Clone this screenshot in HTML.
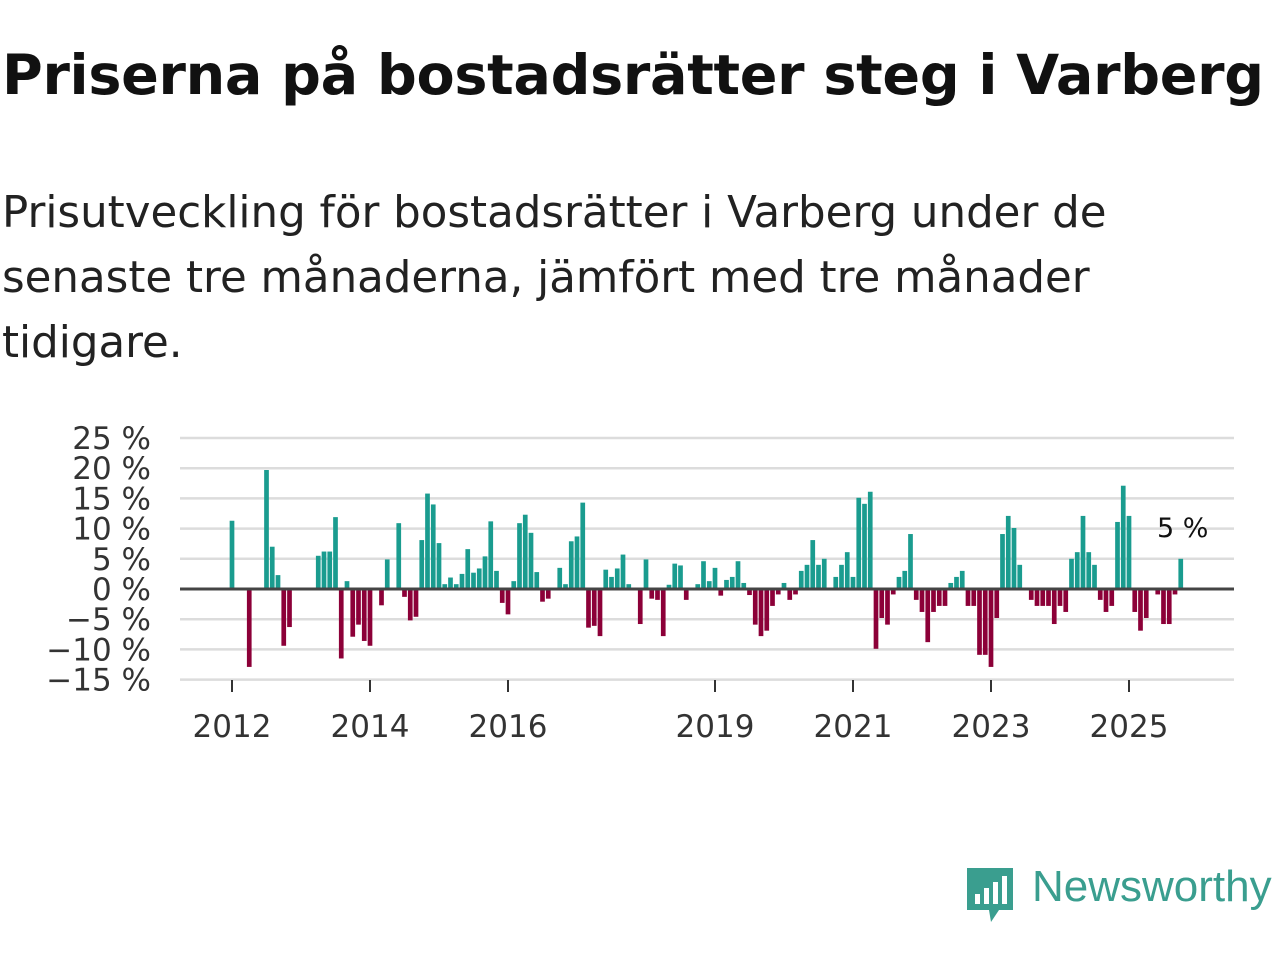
<!DOCTYPE html>
<html><head><meta charset="utf-8">
<style>
body{margin:0;width:1280px;height:960px;background:#fff;font-family:"Liberation Sans","DejaVu Sans",sans-serif;overflow:hidden;position:relative;color:#111}
h1{position:absolute;left:2px;top:43px;margin:0;font-size:55.6px;font-weight:bold;font-family:"DejaVu Sans","Liberation Sans",sans-serif;letter-spacing:-0.3px;white-space:nowrap;color:#111}
.sub{position:absolute;left:2px;top:181px;margin:0;font-size:43.5px;line-height:65px;font-family:"DejaVu Sans","Liberation Sans",sans-serif;width:1130px;color:#222}
svg{position:absolute;left:0;top:0}
</style></head><body>
<h1>Priserna på bostadsrätter steg i Varberg</h1>
<p class="sub">Prisutveckling för bostadsrätter i Varberg under de senaste tre månaderna, jämfört med tre månader tidigare.</p>
<svg id="chart" width="1280" height="960"></svg>
<div style="position:absolute;left:965px;top:866px;">
<svg width="50" height="60" style="position:absolute;left:0;top:0"><path d="M2 2 H48 V44 H34 L26 56 L24 44 H2 Z" fill="#3a9e8f"/><rect x="10" y="28" width="5" height="10" fill="#fff"/><rect x="19" y="22" width="5" height="16" fill="#fff"/><rect x="28" y="16" width="5" height="22" fill="#fff"/><rect x="37" y="10" width="5" height="28" fill="#fff"/></svg>
<span style="position:absolute;left:67px;top:-4px;font-size:44px;color:#3a9e8f;white-space:nowrap;font-family:'Liberation Sans',sans-serif">Newsworthy</span></div>
<script>
const startYear = 2012;
const values = [11.3,null,null,-12.9,null,null,19.7,7.0,2.3,-9.4,-6.3,null,null,null,null,5.5,6.2,6.2,11.9,-11.5,1.3,-7.9,-5.9,-8.6,-9.4,null,-2.7,4.9,null,10.9,-1.3,-5.2,-4.6,8.1,15.8,14.0,7.6,0.8,1.9,0.8,2.5,6.6,2.7,3.4,5.4,11.2,3.0,-2.3,-4.2,1.3,10.9,12.3,9.3,2.8,-2.1,-1.6,null,3.5,0.8,7.9,8.7,14.3,-6.4,-6.1,-7.8,3.2,2.0,3.4,5.7,0.8,null,-5.8,4.9,-1.6,-1.8,-7.8,0.7,4.2,3.9,-1.8,null,0.8,4.6,1.3,3.5,-1.1,1.5,2.0,4.6,1.0,-1.0,-5.9,-7.8,-6.9,-2.8,-0.9,1.0,-1.8,-0.9,3.0,4.0,8.1,4.0,5.0,null,2.0,4.0,6.1,2.0,15.1,14.1,16.1,-9.9,-4.8,-5.9,-0.9,2.0,3.0,9.1,-1.8,-3.8,-8.8,-3.8,-2.8,-2.8,1.0,2.0,3.0,-2.8,-2.8,-10.9,-10.9,-12.9,-4.8,9.1,12.1,10.1,4.0,null,-1.8,-2.8,-2.8,-2.8,-5.8,-2.8,-3.8,5.0,6.1,12.1,6.1,4.0,-1.8,-3.8,-2.8,11.1,17.1,12.1,-3.8,-6.9,-4.8,null,-0.9,-5.8,-5.8,-0.9,5.0];
const yTicks = [25,20,15,10,5,0,-5,-10,-15];
const xTickYears = [2012,2014,2016,2019,2021,2023,2025];
const lastLabel = "5 %";

const NS="http://www.w3.org/2000/svg";
const svg=document.getElementById('chart');
const y=v=>589-v*6.04;
const x=m=>232+m*5.75;
function mk(t,a){const e=document.createElementNS(NS,t);for(const k in a)e.setAttribute(k,a[k]);svg.appendChild(e);return e;}
yTicks.forEach(t=>{
  if(t!==0){const g=mk('line',{x1:180,x2:1234,y1:y(t),y2:y(t),stroke:'#dcdcdc','stroke-width':2.5});
  
  }
  const l=mk('text',{x:151,y:y(t)+11,'text-anchor':'end','font-size':31,fill:'#333','font-family':'DejaVu Sans, Liberation Sans, sans-serif'});
  l.textContent=(t<0?'\u2212'+(-t):t)+' %';
  
  
});
values.forEach((v,i)=>{
  if(v===null)return;
  const r=mk('rect',{x:x(i)-2.35,width:4.7,y:Math.min(y(v),589),height:Math.abs(y(v)-589),fill:v>=0?'#1a9c8f':'#8c0038'});
  
  
});
const z=mk('line',{x1:180,x2:1234,y1:589,y2:589,stroke:'#444','stroke-width':3});


xTickYears.forEach(yr=>{
  const m=(yr-startYear)*12;
  const tk=mk('line',{x1:x(m),x2:x(m),y1:680,y2:692,stroke:'#333','stroke-width':2});
  
  
  const l=mk('text',{x:x(m),y:737,'text-anchor':'middle','font-size':31,fill:'#333','font-family':'DejaVu Sans, Liberation Sans, sans-serif'});
  l.textContent=yr;
  
  
});
const li=values.length-1;
const lab=mk('text',{x:x(li)+2,y:537,'text-anchor':'middle','font-size':27,fill:'#111','font-family':'DejaVu Sans, Liberation Sans, sans-serif'});
lab.textContent=lastLabel;


</script>
</body></html>
